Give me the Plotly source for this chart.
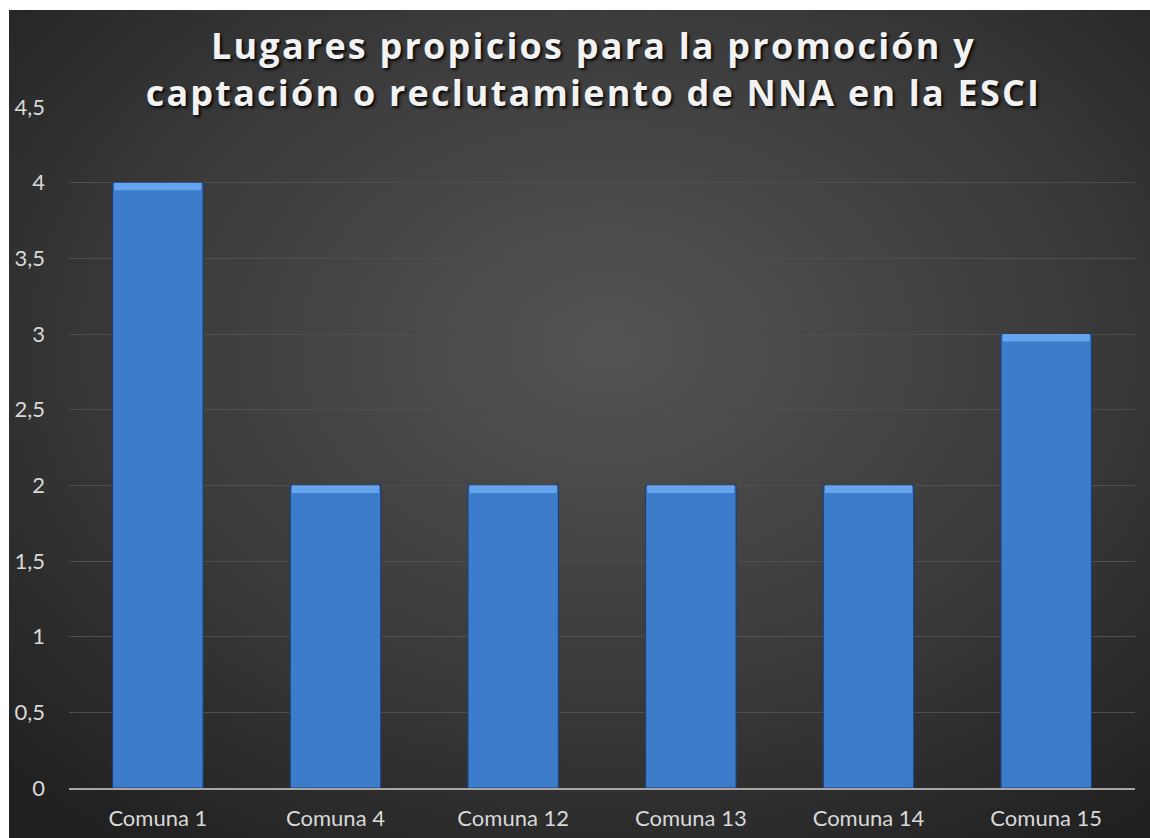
import base64
import plotly.graph_objects as go

categories = ["Comuna 1", "Comuna 4", "Comuna 12", "Comuna 13", "Comuna 14", "Comuna 15"]
values = [4, 2, 2, 2, 2, 3]
y_tickvals = [0, 0.5, 1, 1.5, 2, 2.5, 3, 3.5, 4, 4.5]
y_ticktext = ["0", "0,5", "1", "1,5", "2", "2,5", "3", "3,5", "4", "4,5"]
title_text = "Lugares propicios para la promoción y<br>captación o reclutamiento de NNA en la ESCI"

W, H = 1150, 838
ML, MR, MT, MB = 69, 15, 107, 50
pw, ph = W - ML - MR, H - MT - MB

BW, BH = 1151, 838
svg = f"""<svg xmlns='http://www.w3.org/2000/svg' width='{BW}' height='{BH}' viewBox='0 0 {BW} {BH}' preserveAspectRatio='none'>
<defs><radialGradient id='g' cx='0.52' cy='0.40' r='0.72'>
<stop offset='0' stop-color='#545454'/>
<stop offset='0.55' stop-color='#3b3b3b'/>
<stop offset='1' stop-color='#212121'/>
</radialGradient></defs>
<rect width='{BW}' height='{BH}' fill='url(#g)'/></svg>"""
uri = "data:image/svg+xml;base64," + base64.b64encode(svg.encode()).decode()

bx0, by0 = 9, 10
img_x = (bx0 - ML) / pw
img_y = (H - MB - by0) / ph
img_sx = BW / pw
img_sy = BH / ph


def px_x(p):
    return (p - ML) / pw


def px_y(p):
    return (H - MB - p) / ph


fig = go.Figure()
fig.add_trace(go.Bar(
    x=categories, y=values,
    marker=dict(color="#3d7bcb", line=dict(color="#1d3f72", width=1.2)),
    width=0.51,
))
bevel = 0.05
fig.add_trace(go.Bar(
    x=categories, y=[bevel] * len(values), base=[v - bevel for v in values],
    marker=dict(color="#66a4ee", line=dict(color="#1d3f72", width=0)),
    width=0.49,
))

fig.update_layout(
    width=W, height=H,
    margin=dict(l=ML, r=MR, t=MT, b=MB),
    paper_bgcolor="#262626",
    plot_bgcolor="rgba(0,0,0,0)",
    barmode="overlay",
    showlegend=False,
    separators=",.",
    images=[dict(source=uri, xref="paper", yref="paper", x=img_x, y=img_y,
                 sizex=img_sx, sizey=img_sy, sizing="stretch", layer="below",
                 xanchor="left", yanchor="top")],
    shapes=[
        dict(type="rect", xref="paper", yref="paper", layer="above",
             x0=px_x(-2), x1=px_x(W + 2), y0=px_y(by0), y1=px_y(-2),
             fillcolor="white", line=dict(width=0)),
        dict(type="rect", xref="paper", yref="paper", layer="above",
             x0=px_x(-2), x1=px_x(bx0), y0=px_y(H + 2), y1=px_y(-2),
             fillcolor="white", line=dict(width=0)),
    ],
    annotations=[dict(text=title_text, xref="paper", yref="paper",
                      x=px_x(593), y=px_y(69),
                      xanchor="center", yanchor="middle", showarrow=False,
                      align="center",
                      font=dict(family="Open Sans", size=36, color="#f2f2f2",
                                weight="bold", shadow="2px 2px 3px rgba(0,0,0,0.9)"))],
    font=dict(family="Lato", color="#d9d9d9"),
)
fig.update_xaxes(showgrid=False, showline=True, linecolor="#a6a6a6", linewidth=2,
                 tickfont=dict(size=22, color="#d9d9d9"), ticks="", ticklabelstandoff=10,
                 automargin=False)
fig.update_yaxes(range=[0, 4.5], tickvals=y_tickvals, ticktext=y_ticktext,
                 showgrid=True, gridcolor="#4f4f4f", gridwidth=1, zeroline=False,
                 showline=False, tickfont=dict(size=22, color="#d9d9d9"),
                 ticklabelstandoff=23, automargin=False)

post = """
var st = document.createElement('style');
st.textContent = 'html, body { margin: 0; padding: 0; overflow: hidden; } .annotation-text { letter-spacing: 2.2px; }';
document.head.appendChild(st);
"""
fig.write_html("out.html", post_script=post, config={"displayModeBar": False})
